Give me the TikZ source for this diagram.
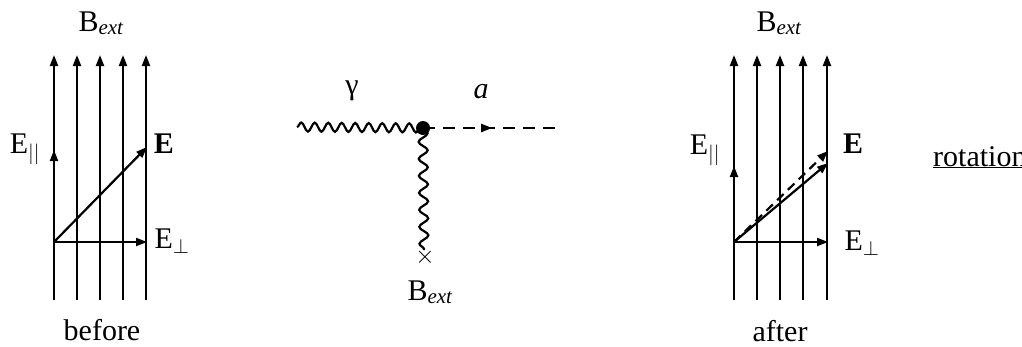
\documentclass[tikz,border=0pt]{standalone}
\usepackage{fontspec}
\setmainfont{Liberation Serif}
\usetikzlibrary{arrows.meta,decorations.pathmorphing,decorations.markings}
\begin{document}
\begin{tikzpicture}[x=1pt,y=-1pt,
  fld/.style={line width=2.2pt,-{Triangle[length=11pt,width=8pt]}},
  vec/.style={line width=2.2pt,-{Triangle[length=11pt,width=8pt]}},
  dvec/.style={line width=2.2pt,dash pattern=on 9pt off 6pt,-{Triangle[length=11pt,width=8pt]}},
  lbl/.style={font=\fontsize{30}{34}\selectfont,inner sep=0pt,anchor=base},
  photon/.style={line width=2.2pt,decorate,decoration={snake,segment length=13.5pt,amplitude=4.5pt}},
  vphoton/.style={line width=2.2pt,decorate,decoration={snake,segment length=17pt,amplitude=4.5pt}},
  axion/.style={line width=2.2pt,dash pattern=on 12pt off 8pt,
    postaction={decorate},decoration={markings,mark=at position 0.52 with {\arrow{Triangle[length=11pt,width=8pt]}}}}
]
\useasboundingbox (0,0) rectangle (1022,346);
% ---- left panel (before)
\foreach \x [count=\i] in {54,77,100,123,146}{
  \coordinate (lb\i) at (\x,300);
  \coordinate (lt\i) at (\x,55);
  \draw[fld] (lb\i) -- (lt\i);
}
\coordinate (lo) at (54,242);
\coordinate (lpar) at (54,150);
\coordinate (lE) at (147,147);
\coordinate (lperp) at (147,242);
\draw[vec] (lo) -- (lpar);
\draw[vec] (lo) -- (lE);
\draw[vec] (lo) -- (lperp);
\node[lbl] (lB) at (101,31) {B\textsubscript{\itshape ext}};
\node[lbl] (lEpar) at (25,153) {E\textsubscript{$||$}};
\node[lbl] (lEl) at (164,153) {\textbf{E}};
\node[lbl] (lEp) at (172,248) {E\textsubscript{$\perp$}};
\node[lbl] (before) at (102,340) {before};
% ---- centre diagram
\coordinate (gin) at (297,127);
\node[circle,fill=black,inner sep=0pt,minimum size=14pt] (v) at (423,128) {};
\coordinate (aout) at (556,128);
\coordinate (bx) at (424,250);
\draw[photon] (gin) -- (v.center);
\draw[axion] (v.center) -- (aout);
\draw[vphoton] (v.center) -- (bx);
\node[inner sep=0pt,font=\fontsize{30}{30}\selectfont] (cross) at (425,257) {$\times$};
\node[lbl] (gam) at (352,94) {γ};
\node[lbl] (alab) at (481,98) {\itshape a};
\node[lbl] (cB) at (430,300) {B\textsubscript{\itshape ext}};
% ---- right panel (after)
\foreach \x [count=\i] in {734,757,780,803,827}{
  \coordinate (rb\i) at (\x,300);
  \coordinate (rt\i) at (\x,55);
  \draw[fld] (rb\i) -- (rt\i);
}
\coordinate (ro) at (734,242);
\coordinate (rpar) at (734,166);
\coordinate (rEd) at (828,151);
\coordinate (rEs) at (828,163);
\coordinate (rperp) at (828,242);
\draw[vec] (ro) -- (rpar);
\draw[dvec] (ro) -- (rEd);
\draw[vec] (ro) -- (rEs);
\draw[vec] (ro) -- (rperp);
\node[lbl] (rB) at (779,31) {B\textsubscript{\itshape ext}};
\node[lbl] (rEpar) at (705,154) {E\textsubscript{$||$}};
\node[lbl] (rEl) at (853,153) {\textbf{E}};
\node[lbl] (rEp) at (862,250) {E\textsubscript{$\perp$}};
\node[lbl] (after) at (780,341) {after};
\node[lbl,anchor=base west] (rot) at (933,166) {\underline{rotation}};
\end{tikzpicture}
\end{document}
